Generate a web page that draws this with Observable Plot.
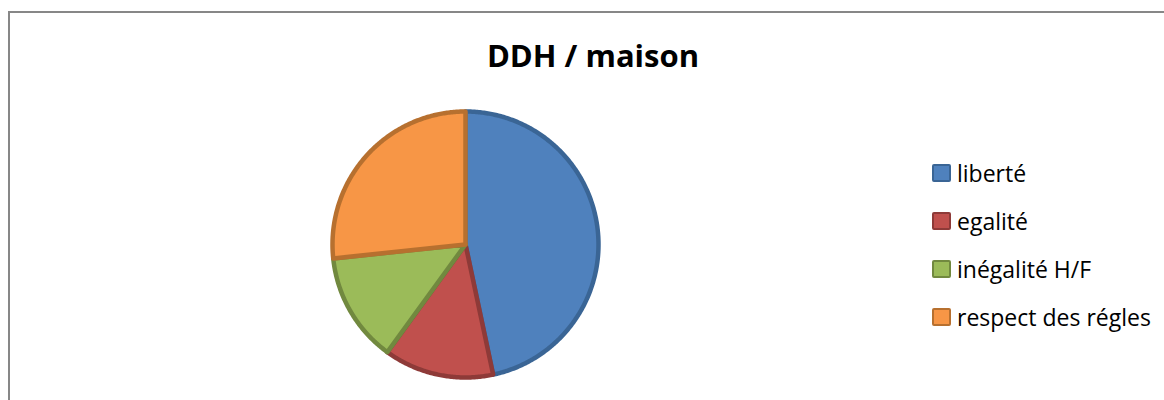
<!DOCTYPE html>
<html>
<head>
<meta charset="utf-8">
<script src="https://cdn.jsdelivr.net/npm/d3@7"></script>
<script src="https://cdn.jsdelivr.net/npm/@observablehq/plot@0.6"></script>
<style>
  html, body { margin: 0; padding: 0; background: #fff; overflow: hidden; }
  #wrap { position: relative; width: 1164px; height: 400px; font-family: "Open Sans", sans-serif; }
  #frame { position: absolute; left: 8px; top: 11px; width: 1200px; height: 500px; border: 2px solid #878787; box-sizing: border-box; }
  #title { position: absolute; left: 0; width: 1186px; top: 35px; text-align: center; font-weight: bold; font-size: 31px; line-height: 40px; color: #000; }
  #pie { position: absolute; left: 325px; top: 104px; }
  #legend { position: absolute; left: 932px; top: 149px; }
  .row { display: flex; align-items: center; height: 48px; font-size: 23px; color: #000; }
  .sw { width: 15px; height: 14px; border: 2px solid; border-radius: 2px; margin-right: 6px; box-sizing: content-box; }
</style>
</head>
<body>
<div id="wrap">
  <div id="frame"></div>
  <div id="title">DDH / maison</div>
  <div id="pie"></div>
  <div id="legend"></div>
</div>
<script>
const categories = ["liberté", "egalité", "inégalité H/F", "respect des régles"];
const values = [7, 2, 2, 4];
const fills = ["#4f81bd", "#c0504d", "#9bbb59", "#f79646"];
const strokes = ["#3a6595", "#8e3a38", "#71893f", "#b7702f"];

const table = categories.map((name, i) => ({name, value: values[i], fill: fills[i], stroke: strokes[i]}));
const arcs = d3.pie().sort(null).value(d => d.value)(table);

// outline of each slice on the unit circle (angles from 12 o'clock, clockwise)
const pts = [];
for (const a of arcs) {
  const d = a.data;
  pts.push({name: d.name, fill: d.fill, stroke: d.stroke, x: 0, y: 0});
  const n = Math.max(2, Math.ceil((a.endAngle - a.startAngle) / 0.01));
  for (let k = 0; k <= n; k++) {
    const t = a.startAngle + (a.endAngle - a.startAngle) * k / n;
    pts.push({name: d.name, fill: d.fill, stroke: d.stroke, x: Math.sin(t), y: Math.cos(t)});
  }
  pts.push({name: d.name, fill: d.fill, stroke: d.stroke, x: 0, y: 0});
}

const size = 280, r = 133;
const ext = (size / 2) / r;
const chart = Plot.plot({
  width: size, height: size, margin: 0,
  x: {domain: [-ext, ext], axis: null},
  y: {domain: [-ext, ext], axis: null},
  color: {type: "identity"},
  marks: [
    Plot.line(pts, {x: "x", y: "y", z: "name", fill: "fill", stroke: "stroke", strokeWidth: 4.5, strokeLinejoin: "round", curve: "linear"})
  ]
});
document.getElementById("pie").appendChild(chart);

const legend = document.getElementById("legend");
table.forEach(d => {
  const row = document.createElement("div");
  row.className = "row";
  const sw = document.createElement("div");
  sw.className = "sw";
  sw.style.background = d.fill;
  sw.style.borderColor = d.stroke;
  const tx = document.createElement("span");
  tx.textContent = d.name;
  row.appendChild(sw); row.appendChild(tx);
  legend.appendChild(row);
});
</script>
</body>
</html>
